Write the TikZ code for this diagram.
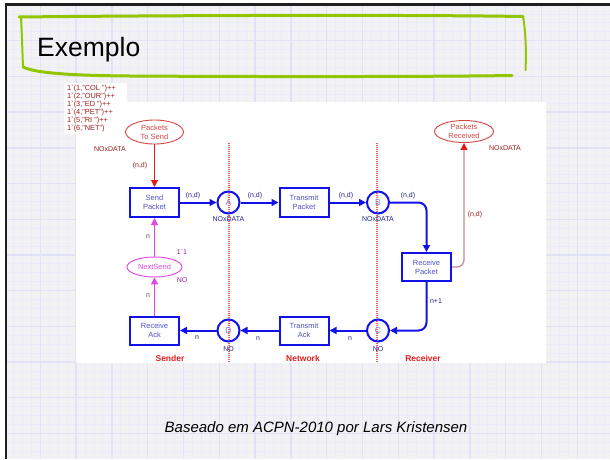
\documentclass[tikz,border=0pt]{standalone}
\usepackage{fontspec}
\setmainfont{Liberation Sans}
\usetikzlibrary{arrows.meta,shapes.geometric}

\definecolor{paper}{RGB}{242,242,244}
\definecolor{gridminor}{RGB}{235,235,249}
\definecolor{gridmajor}{RGB}{225,225,248}
\definecolor{titlegreen}{RGB}{145,198,0}
\definecolor{netblue}{RGB}{18,18,232}
\definecolor{boxtext}{RGB}{80,80,205}
\definecolor{lettercol}{RGB}{130,130,215}
\definecolor{navy}{RGB}{35,35,140}
\definecolor{placered}{RGB}{212,70,70}
\definecolor{darkred}{RGB}{155,30,30}
\definecolor{arrowred}{RGB}{228,25,25}
\definecolor{rose}{RGB}{190,140,140}
\definecolor{mag}{RGB}{228,70,228}
\definecolor{magdark}{RGB}{150,35,150}
\definecolor{greyn}{RGB}{95,70,95}
\definecolor{divider}{RGB}{245,85,85}
\definecolor{zonered}{RGB}{232,30,30}

\begin{document}
\begin{tikzpicture}[x=1pt,y=-1pt,
  trans/.style={draw=netblue, line width=2pt, minimum width=49pt, minimum height=29pt,
    inner sep=0pt, align=center, text=boxtext, font=\fontsize{7.5}{9}\selectfont},
  place/.style={circle, draw=netblue, line width=2pt, minimum size=22pt, inner sep=0pt,
    text=lettercol, font=\fontsize{8.5}{9}\selectfont},
  redplace/.style={ellipse, draw=placered, line width=0.9pt, inner sep=0pt, align=center,
    text=placered, font=\fontsize{7.5}{9}\selectfont},
  arcb/.style={draw=netblue, line width=2pt, rounded corners=8pt,
    -{Triangle[length=7pt,width=7pt]}},
  arcr/.style={draw=arrowred, line width=1pt, -{Triangle[length=7pt,width=7pt]}},
  arcrose/.style={draw=rose, line width=1.2pt, rounded corners=7pt,
    -{Triangle[length=7pt,width=7pt,color=arrowred]}},
  arcm/.style={draw=mag, line width=1pt, -{Triangle[length=7pt,width=7pt]}},
  lbl/.style={font=\fontsize{7}{8}\selectfont, text=navy, inner sep=0pt},
  typ/.style={font=\fontsize{7}{8}\selectfont, text=navy, inner sep=0pt},
  zone/.style={font=\bfseries\fontsize{8.5}{9}\selectfont, text=zonered, inner sep=0pt},
  dotmark/.style={fill=divider},
  minorline/.style={draw=gridminor, line width=0.8pt},
  majorline/.style={draw=gridmajor, line width=1.4pt},
  pen/.style={draw=titlegreen, line cap=round, line join=round}]

\useasboundingbox (0,0) rectangle (610,459);
\fill[white] (0,0) rectangle (610,459);

% squared paper
\fill[paper] (6,5) rectangle (610,459);
\foreach \k in {1,...,67} {\draw[minorline] ({4.4+\k*8.95},5) -- ({4.4+\k*8.95},459);}
\foreach \k in {1,...,51} {\draw[minorline] (6,{5+\k*8.925}) -- (610,{5+\k*8.925});}
\foreach \k in {1,...,16} {\draw[majorline] ({4.4+\k*35.8},5) -- ({4.4+\k*35.8},459);}
\foreach \k in {1,...,12} {\draw[majorline] (6,{5+\k*35.7}) -- (610,{5+\k*35.7});}

% frame
\draw[line width=2.6pt, black!88] (610,4.3) -- (6,4.3) -- (6,459);

% hand-drawn title box
\draw[pen, line width=3pt] (19,17) .. controls (150,15.5) and (400,14.5) .. (523,16.5);
\draw[pen, line width=2pt] (523,16.5) .. controls (525.5,30) and (526.5,50) .. (525.5,70);
\draw[pen, line width=2pt] (21,18) .. controls (22,35) and (22.5,55) .. (23,67);
\draw[pen, line width=3pt] (23,67) .. controls (35,73) and (70,75.5) .. (130,76)
  .. controls (300,77) and (450,76.5) .. (512,75.5);
\node[anchor=base west, inner sep=0pt, font=\fontsize{26.5}{28}\selectfont] (title) at (37,56.5) {Exemplo};

% diagram panel
\fill[white] (76,102) rectangle (546,363);
\fill[white] (64,83) rectangle (127,134);

% initial marking
\node[anchor=north west, inner sep=0pt, align=left, text=darkred,
  font=\fontsize{7.4}{8}\selectfont] (marking) at (67,84.5)
  {1\textasciigrave(1,"COL ")++\\1\textasciigrave(2,"OUR")++\\1\textasciigrave(3,"ED ")++\\
   1\textasciigrave(4,"PET")++\\1\textasciigrave(5,"RI ")++\\1\textasciigrave(6,"NET")};

% dotted zone dividers
\foreach \yy in {143,145,...,361} {
  \fill[dotmark] (228.4,\yy) rectangle ++(1.2,1.1);
  \fill[dotmark] (376.4,\yy) rectangle ++(1.2,1.1);
}

% places and transitions
\node[redplace, minimum width=58pt, minimum height=24pt] (pts) at (154.5,132) {Packets\\To Send};
\node[redplace, minimum width=59pt, minimum height=22pt] (pr) at (464,131.5) {Packets\\Received};
\node[trans] (sp) at (154.5,202.5) {Send\\Packet};
\node[place] (a) at (228.5,202.5) {A};
\node[trans] (tp) at (304,202.5) {Transmit\\Packet};
\node[place] (b) at (378,202.5) {B};
\node[trans, minimum height=28pt] (rp) at (426.5,267) {Receive\\Packet};
\node[place] (c) at (378,330.5) {C};
\node[trans, minimum height=28pt] (ta) at (304,330.5) {Transmit\\Ack};
\node[place] (d) at (228.5,330.5) {D};
\node[trans, minimum height=28pt] (ra) at (154.5,330.5) {Receive\\Ack};
\node[ellipse, draw=mag, line width=0.9pt, inner sep=0pt, minimum width=55pt, minimum height=20pt,
  text=mag, font=\fontsize{7.5}{9}\selectfont] (ns) at (154.5,267) {NextSend};

% arcs
\draw[arcr] (pts) -- (sp);
\draw[arcb] (sp) -- (a);
\draw[arcb] (a) -- (tp);
\draw[arcb] (tp) -- (b);
\draw[arcb] (b) -| (rp);
\draw[arcrose] (rp.east) -| (pr.south);
\draw[arcb] (rp.south) |- (c);
\draw[arcb] (c) -- (ta);
\draw[arcb] (ta) -- (d);
\draw[arcb] (d) -- (ra);
\draw[arcm] (ra) -- (ns);
\draw[arcm] (ns) -- (sp);

% arc inscriptions
\node[lbl, text=darkred] (l1) at (140,166) {(n,d)};
\node[lbl] (l2) at (193,196) {(n,d)};
\node[lbl] (l3) at (255,196) {(n,d)};
\node[lbl] (l4) at (346,196) {(n,d)};
\node[lbl] (l5) at (408,196) {(n,d)};
\node[lbl, text=darkred] (l6) at (475,215) {(n,d)};
\node[lbl] (l7) at (436,301) {n+1};
\node[lbl] (l8) at (350,339) {n};
\node[lbl] (l9) at (258,339) {n};
\node[lbl] (l10) at (197,338) {n};
\node[lbl, text=greyn] (l11) at (148,296) {n};
\node[lbl, text=greyn] (l12) at (148,237) {n};

% colour sets and markings
\node[typ, text=darkred] (t1) at (110,149) {NOxDATA};
\node[typ, text=darkred] (t2) at (505,148) {NOxDATA};
\node[typ] (t3) at (228.5,219) {NOxDATA};
\node[typ] (t4) at (378,219) {NOxDATA};
\node[typ] (t5) at (228.5,349) {NO};
\node[typ] (t6) at (378,349) {NO};
\node[typ, text=magdark] (t7) at (182,252) {1\textasciigrave 1};
\node[typ, text=magdark] (t8) at (182,280) {NO};

% zones
\node[zone] (z1) at (170,358) {Sender};
\node[zone] (z2) at (303,358) {Network};
\node[zone] (z3) at (423,358) {Receiver};

% credit
\node[font=\itshape\fontsize{15}{16}\selectfont, inner sep=0pt] (credit) at (316,429)
  {Baseado em ACPN-2010 por Lars Kristensen};
\end{tikzpicture}
\end{document}
